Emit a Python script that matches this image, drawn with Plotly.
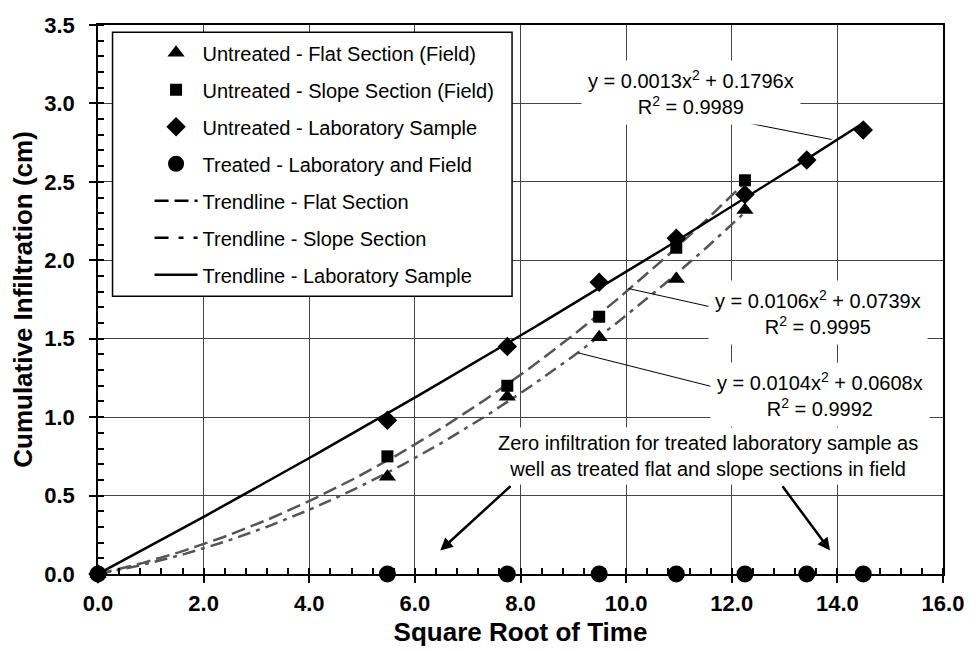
import numpy as np
import plotly.graph_objects as go

# ---------------- data ----------------
sqrt_time = [0.0, 5.48, 7.75, 9.49, 10.95, 12.25, 13.42, 14.49]

flat_x = sqrt_time[:6]
flat_y = [0.0, 0.62, 1.13, 1.51, 1.88, 2.32]

slope_x = sqrt_time[:6]
slope_y = [0.0, 0.75, 1.20, 1.64, 2.08, 2.51]

lab_x = sqrt_time
lab_y = [0.0, 0.98, 1.45, 1.86, 2.14, 2.42, 2.64, 2.83]

treated_x = sqrt_time
treated_y = [0.0, 0.0, 0.0, 0.0, 0.0, 0.0, 0.0, 0.0]

# trendline coefficients (y = a x^2 + b x) as printed on the chart
coef_upper = (0.0106, 0.0739)   # long-dash curve
coef_lower = (0.0104, 0.0608)   # dash-dot curve
coef_lab = (0.0013, 0.1796)     # solid curve

eq_upper = "y = 0.0106x<sup>2</sup> + 0.0739x<br>R<sup>2</sup> = 0.9995"
eq_lower = "y = 0.0104x<sup>2</sup> + 0.0608x<br>R<sup>2</sup> = 0.9992"
eq_lab = "y = 0.0013x<sup>2</sup> + 0.1796x<br>R<sup>2</sup> = 0.9989"
zero_note = "Zero infiltration for treated laboratory sample as<br>well as treated flat and slope sections in field"

x_ticks = [0, 2, 4, 6, 8, 10, 12, 14, 16]
y_ticks = [0, 0.5, 1.0, 1.5, 2.0, 2.5, 3.0, 3.5]

FONT = "Liberation Sans, Arial, sans-serif"
GRAY = "#555555"


def quad(coef, xs):
    a, b = coef
    xs = np.asarray(xs)
    return a * xs ** 2 + b * xs


x_field = np.linspace(0, slope_x[-1], 120)
x_lab = np.linspace(0, lab_x[-1], 120)

fig = go.Figure()

# trendlines (plotted)
fig.add_trace(go.Scatter(x=x_field, y=quad(coef_upper, x_field), mode="lines",
                         line=dict(color=GRAY, width=2.5, dash="14px,6px"),
                         showlegend=False, hoverinfo="skip"))
fig.add_trace(go.Scatter(x=x_field, y=quad(coef_lower, x_field), mode="lines",
                         line=dict(color=GRAY, width=2.5, dash="13px,6px,4px,6px"),
                         showlegend=False, hoverinfo="skip"))
fig.add_trace(go.Scatter(x=x_lab, y=quad(coef_lab, x_lab), mode="lines",
                         line=dict(color="black", width=2.5),
                         showlegend=False, hoverinfo="skip"))

# markers
fig.add_trace(go.Scatter(x=flat_x, y=flat_y, mode="markers", name="Untreated - Flat Section (Field)",
                         marker=dict(symbol="triangle-up", size=15, color="black"),
                         cliponaxis=False, legendgroup="a", legendrank=1))
fig.add_trace(go.Scatter(x=slope_x, y=slope_y, mode="markers", name="Untreated - Slope Section (Field)",
                         marker=dict(symbol="square", size=12, color="black"),
                         cliponaxis=False, legendgroup="b", legendrank=2))
fig.add_trace(go.Scatter(x=lab_x, y=lab_y, mode="markers", name="Untreated - Laboratory Sample",
                         marker=dict(symbol="diamond", size=15, color="black"),
                         cliponaxis=False, legendgroup="c", legendrank=3))
fig.add_trace(go.Scatter(x=treated_x, y=treated_y, mode="markers", name="Treated - Laboratory and Field",
                         marker=dict(symbol="circle", size=17, color="black"),
                         cliponaxis=False, legendgroup="d", legendrank=4))

# legend-only line entries
fig.add_trace(go.Scatter(x=[None], y=[None], mode="lines", name="Trendline - Flat Section",
                         line=dict(color="black", width=2.5, dash="14px,6px"),
                         legendgroup="e", legendrank=5))
fig.add_trace(go.Scatter(x=[None], y=[None], mode="lines", name="Trendline - Slope Section",
                         line=dict(color="black", width=2.5, dash="14px,10px,5px,10px"),
                         legendgroup="f", legendrank=6))
fig.add_trace(go.Scatter(x=[None], y=[None], mode="lines", name="Trendline - Laboratory Sample",
                         line=dict(color="black", width=2.5),
                         legendgroup="g", legendrank=7))

# legend frame
fig.add_shape(type="rect", xref="paper", yref="paper", x0=0.0172, x1=0.49, y0=0.506, y1=0.987,
              line=dict(color="black", width=1.5), fillcolor="white", layer="above")

# leader lines
fig.add_shape(type="line", xref="x", yref="y", x0=11.84, y0=2.906, x1=13.89, y1=2.77,
              line=dict(color="black", width=1))
fig.add_shape(type="line", xref="x", yref="y", x0=10.04, y0=1.82, x1=11.71, y1=1.695,
              line=dict(color="black", width=1))
fig.add_shape(type="line", xref="x", yref="y", x0=9.09, y0=1.41, x1=11.74, y1=1.185,
              line=dict(color="black", width=1))

ann_font = dict(family=FONT, size=20, color="black")
fig.add_annotation(x=11.23, y=3.07, xref="x", yref="y", text=eq_lab, showarrow=False,
                   font=ann_font, bgcolor="white", borderpad=6, align="center")
fig.add_annotation(x=13.64, y=1.67, xref="x", yref="y", text=eq_upper, showarrow=False,
                   font=ann_font, bgcolor="white", borderpad=6, align="center")
fig.add_annotation(x=13.68, y=1.147, xref="x", yref="y", text=eq_lower, showarrow=False,
                   font=ann_font, bgcolor="white", borderpad=6, align="center")
fig.add_annotation(x=11.55, y=0.755, xref="x", yref="y", text=zero_note, showarrow=False,
                   font=ann_font, bgcolor="white", borderpad=4, align="center")

# arrows
fig.add_annotation(x=6.48, y=0.15, ax=7.84, ay=0.569, xref="x", yref="y", axref="x", ayref="y",
                   text="", showarrow=True, arrowhead=2, arrowsize=1, arrowwidth=2.5, arrowcolor="black")
fig.add_annotation(x=13.86, y=0.15, ax=12.94, ay=0.569, xref="x", yref="y", axref="x", ayref="y",
                   text="", showarrow=True, arrowhead=2, arrowsize=1, arrowwidth=2.5, arrowcolor="black")

tick_font = dict(family=FONT, size=22, color="black", weight="bold")
title_font = dict(family=FONT, size=26, color="black", weight="bold")

fig.update_xaxes(range=[0, 16], tickvals=x_ticks, ticktext=[f"{v:.1f}" for v in x_ticks],
                 showgrid=True, gridcolor="#444444", gridwidth=1,
                 showline=True, linecolor="black", linewidth=1.5, mirror=True,
                 ticks="outside", ticklen=7, tickcolor="black", tickwidth=1.5,
                 ticklabelstandoff=2,
                 minor=dict(dtick=0.4, ticks="inside", ticklen=6, tickcolor="black", showgrid=False),
                 tickfont=tick_font, zeroline=False,
                 title=dict(text="Square Root of Time", font=title_font, standoff=8))
fig.update_yaxes(range=[0, 3.5], tickvals=y_ticks, ticktext=[f"{v:.1f}" for v in y_ticks],
                 showgrid=True, gridcolor="#444444", gridwidth=1,
                 showline=True, linecolor="black", linewidth=1.5, mirror=True,
                 ticks="outside", ticklen=7, tickcolor="black", tickwidth=1.5,
                 ticklabelstandoff=10,
                 minor=dict(dtick=0.1, ticks="inside", ticklen=6, tickcolor="black", showgrid=False),
                 tickfont=tick_font, zeroline=False,
                 title=dict(text="Cumulative Infiltration (cm)", font=title_font, standoff=4))

fig.update_layout(
    width=976, height=651,
    margin=dict(l=90, r=41, t=17, b=85, autoexpand=False),
    paper_bgcolor="white", plot_bgcolor="white",
    font=dict(family=FONT, color="black"),
    showlegend=True,
    legend=dict(x=0.061, y=0.985, xanchor="left", yanchor="top",
                bgcolor="rgba(0,0,0,0)", borderwidth=0,
                font=dict(family=FONT, size=20, color="black"),
                itemwidth=43, tracegroupgap=8, traceorder="grouped", itemsizing="trace"),
)

fig.write_html("out.html")
